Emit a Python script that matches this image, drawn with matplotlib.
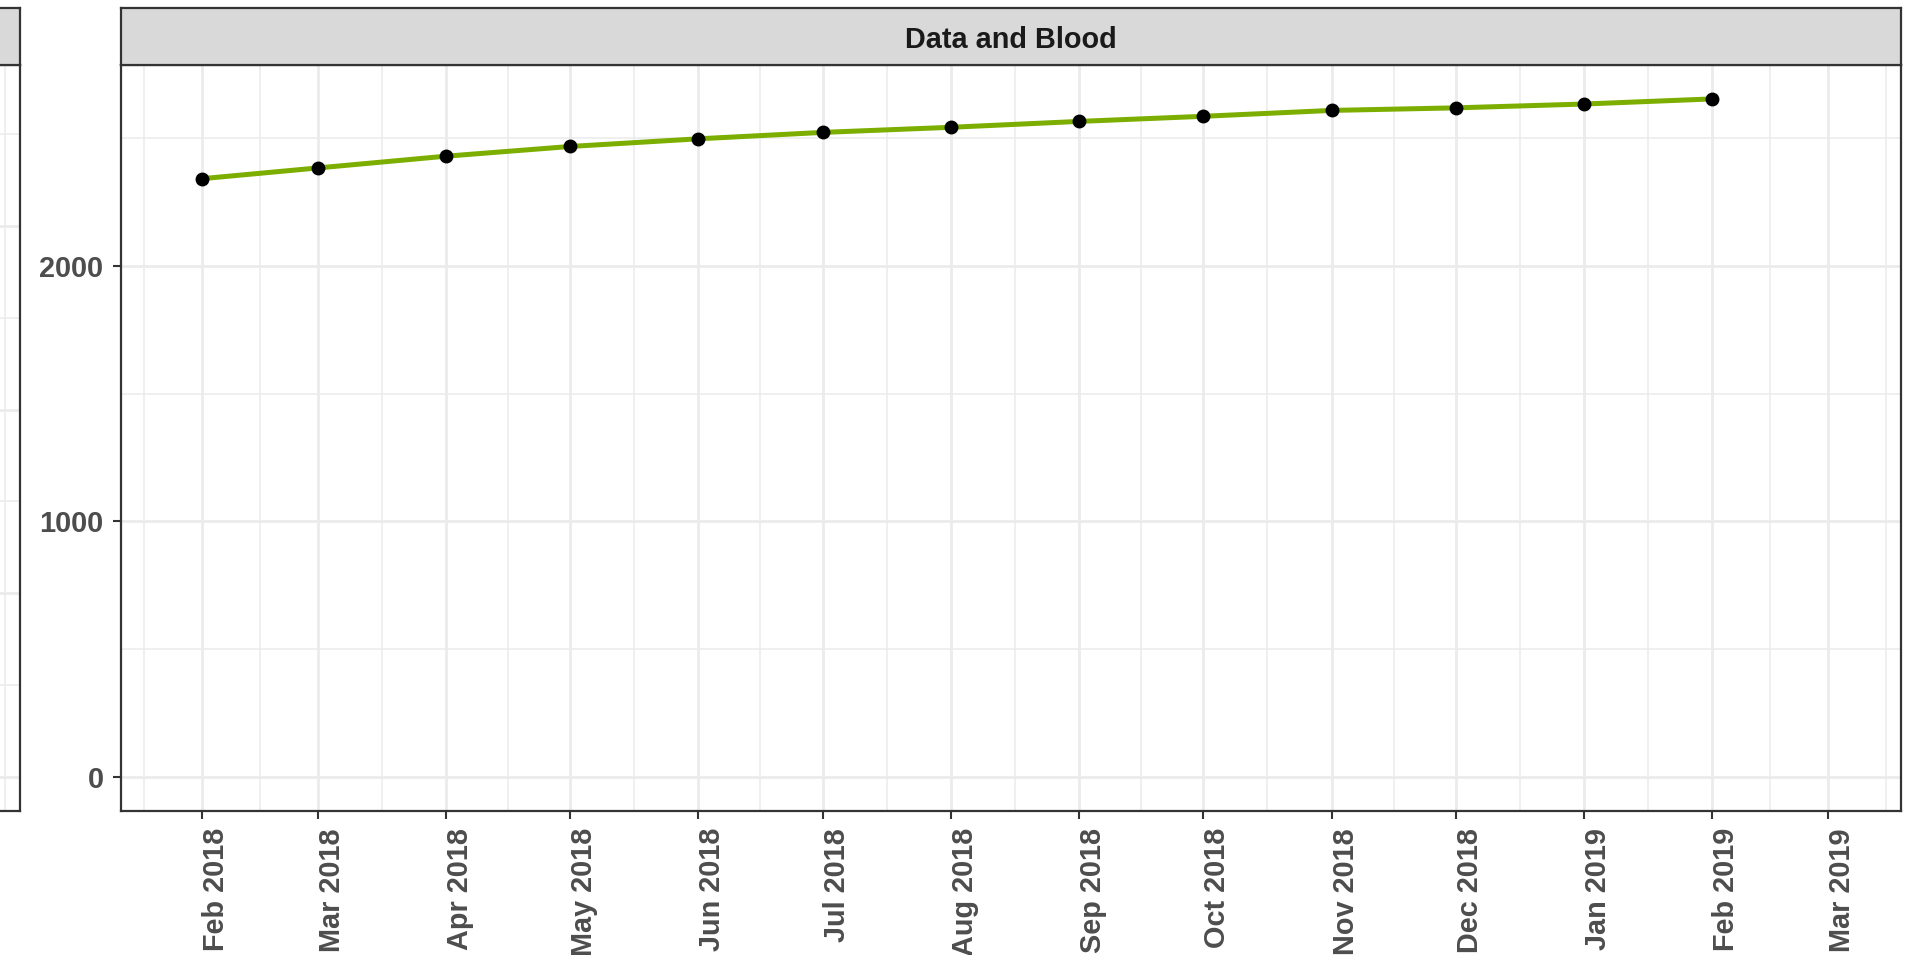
import matplotlib
matplotlib.use('Agg')
import matplotlib.pyplot as plt
import matplotlib.dates as mdates
import numpy as np
import pandas as pd

# ---- data ----
months = ['2018-02-01', '2018-03-01', '2018-04-01', '2018-05-01', '2018-06-01',
          '2018-07-01', '2018-08-01', '2018-09-01', '2018-10-01', '2018-11-01',
          '2018-12-01', '2019-01-01', '2019-02-01']
values = [2340, 2382, 2428, 2466, 2496, 2521, 2541, 2564, 2584, 2607, 2617, 2632, 2652]
panel_title = 'Data and Blood'
tick_months = pd.date_range('2018-02-01', '2019-03-01', freq='MS')
tick_labels = [d.strftime('%b %Y') for d in tick_months]
y_major = [0, 1000, 2000]
y_minor = [500, 1500, 2500]
x_limits = (pd.Timestamp('2018-01-12 12:00'), pd.Timestamp('2019-03-18 14:00'))
y_limits = (-132.6, 2784.6)

# ---- styling ----
LINE_COL = '#7CAE00'
GRID_COL = '#EBEBEB'
BORDER_COL = '#333333'
STRIP_FILL = '#D9D9D9'
TICKLAB_COL = '#4D4D4D'
STRIP_TXT = '#1A1A1A'
FONT = 'Liberation Sans'
FS = 20.8

W, H = 1920, 955
fig = plt.figure(figsize=(W / 100, H / 100), dpi=100)

panel_top, panel_bot, strip_top = 65, 811, 8
main_left, main_w = 121, 1780
left_right = 20


def fig_rect(x0, y_top, w, y_bot):
    return [x0 / W, 1 - y_bot / H, w / W, (y_bot - y_top) / H]


dates = pd.to_datetime(months)
xmaj = mdates.date2num(tick_months.to_pydatetime())
d_first = xmaj[1] - xmaj[0]
d_last = xmaj[-1] - xmaj[-2]
ext = np.concatenate([[xmaj[0] - d_first], xmaj, [xmaj[-1] + d_last]])
xmin_ = (ext[:-1] + ext[1:]) / 2.0


def style_panel(ax):
    ax.set_facecolor('white')
    for s in ax.spines.values():
        s.set_color(BORDER_COL)
        s.set_linewidth(1.6)
        s.set_zorder(10)
    ax.set_xlim(mdates.date2num(x_limits[0]), mdates.date2num(x_limits[1]))
    ax.set_xticks(xmaj)
    ax.set_xticks(xmin_, minor=True)
    ax.grid(which='major', color=GRID_COL, linewidth=2.0, zorder=0)
    ax.grid(which='minor', color=GRID_COL, linewidth=1.1, zorder=0)
    ax.set_axisbelow(True)
    ax.tick_params(which='minor', length=0)
    ax.tick_params(which='major', length=5.8, width=1.5, color=BORDER_COL,
                   labelcolor=TICKLAB_COL, labelsize=FS)


def add_strip(x0, w, text=None):
    sax = fig.add_axes(fig_rect(x0, strip_top, w, panel_top))
    sax.set_facecolor(STRIP_FILL)
    sax.set_xticks([])
    sax.set_yticks([])
    for s in sax.spines.values():
        s.set_color(BORDER_COL)
        s.set_linewidth(1.6)
    if text:
        sax.text(0.5, 0.5, text, transform=sax.transAxes, ha='center',
                 va='center_baseline', fontsize=FS, fontweight='bold',
                 color=STRIP_TXT, family=FONT)
    return sax


# ---- left (cropped) panel ----
ax0 = fig.add_axes(fig_rect(left_right - main_w, panel_top, main_w, panel_bot))
style_panel(ax0)
ax0.set_ylim(-0.369, 7.749)
ax0.set_yticks([0, 2, 4, 6])
ax0.set_yticks([1, 3, 5, 7], minor=True)
ax0.set_xticklabels([])
ax0.set_yticklabels([])
add_strip(left_right - main_w, main_w)

# ---- main panel ----
ax = fig.add_axes(fig_rect(main_left, panel_top, main_w, panel_bot))
style_panel(ax)
ax.set_ylim(*y_limits)
ax.set_yticks(y_major)
ax.set_yticks(y_minor, minor=True)
ax.set_yticklabels([str(v) for v in y_major], fontweight='bold', family=FONT,
                   color=TICKLAB_COL, fontsize=FS)
ax.set_xticklabels(tick_labels, rotation=90, ha='left', va='top',
                   fontweight='bold', family=FONT, color=TICKLAB_COL, fontsize=FS)
ax.tick_params(axis='y', which='major', pad=6.8)
ax.tick_params(axis='x', which='major', pad=6.5)

ax.plot(dates, values, color=LINE_COL, linewidth=3.6, zorder=3, solid_capstyle='butt')
ax.plot(dates, values, 'o', color='black', markersize=9.0, zorder=4)
ax.set_xlim(mdates.date2num(x_limits[0]), mdates.date2num(x_limits[1]))

add_strip(main_left, main_w, panel_title)

fig.savefig('out.png', dpi=100, facecolor='white')
